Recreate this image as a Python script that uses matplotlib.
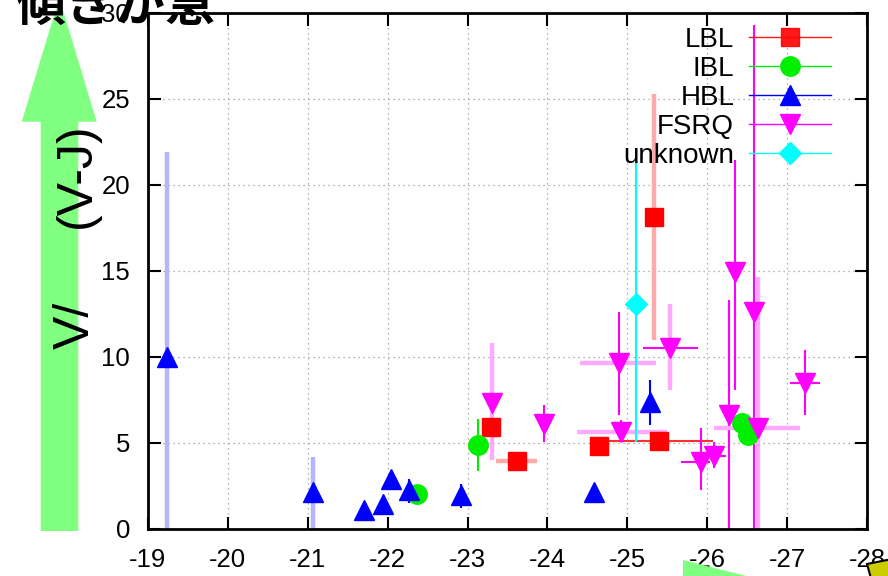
import matplotlib
matplotlib.use('Agg')
import matplotlib.pyplot as plt
import numpy as np
from matplotlib.lines import Line2D
from matplotlib.patches import Polygon

nan = np.nan

# ---- data ----
# LBL (red squares)
lbl_x = [-23.29, -23.62, -24.64, -25.34, -25.40]
lbl_y = [5.91, 3.97, 4.83, 18.16, 5.13]
lbl_ylo = [nan, nan, nan, 11.0, nan]
lbl_yhi = [nan, nan, nan, 25.3, nan]
lbl_yfaint = [False, False, False, True, False]
lbl_xlo = [nan, -23.36, nan, nan, -24.70]
lbl_xhi = [nan, -23.87, nan, nan, -26.07]
lbl_xfaint = [False, True, False, False, False]

# IBL (green circles)
ibl_x = [-22.37, -23.13, -26.43, -26.51]
ibl_y = [2.03, 4.88, 6.14, 5.47]
ibl_ylo = [nan, 3.39, nan, nan]
ibl_yhi = [nan, 6.38, nan, nan]
ibl_yfaint = [False, False, False, False]

# HBL (blue triangles)
hbl_x = [-19.24, -21.06, -21.71, -21.94, -22.04, -22.27, -22.92, -24.58, -25.28]
hbl_y = [10.0, 2.17, 1.10, 1.45, 2.89, 2.27, 1.98, 2.17, 7.40]
hbl_ylo = [0.0, 0.0, nan, nan, nan, 1.5, 1.2, nan, 6.05]
hbl_yhi = [21.9, 4.2, nan, nan, nan, 2.9, 2.6, nan, 8.66]
hbl_yfaint = [True, True, False, False, False, False, False, False, False]

# FSRQ (magenta down triangles)
fsrq_x = [-23.31, -23.96, -24.90, -25.53, -26.35, -26.58, -24.92, -25.92, -26.09, -26.27, -26.64, -27.23]
fsrq_y = [7.31, 6.10, 9.63, 10.50, 14.96, 12.63, 5.66, 3.91, 4.24, 6.63, 5.85, 8.47]
fsrq_ylo = [4.0, 5.08, 6.6, 8.08, 8.08, 0.0, 5.17, 2.27, 3.53, 0.0, 0.0, 6.63]
fsrq_yhi = [10.8, 7.2, 12.6, 13.1, 21.45, 29.3, 6.34, 5.9, 5.08, 13.3, 14.67, 10.4]
fsrq_yfaint = [True, False, False, True, False, False, False, False, False, False, True, False]
fsrq_xlo = [nan, nan, -24.41, -25.19, nan, nan, -24.37, -25.67, -25.94, nan, -26.09, -27.03]
fsrq_xhi = [nan, nan, -25.36, -25.89, nan, nan, -25.50, -26.03, -26.24, nan, -27.16, -27.41]
fsrq_xfaint = [False, False, True, False, False, False, True, False, False, False, True, False]

# unknown (cyan diamonds)
unk_x = [-25.11]
unk_y = [13.08]
unk_ylo = [5.08]
unk_yhi = [21.3]
unk_yfaint = [False]

xticks = list(range(-19, -29, -1))
yticks = list(range(0, 31, 5))

plt.rcParams['font.family'] = ['Liberation Sans', 'DejaVu Sans']
plt.rcParams['axes.unicode_minus'] = False

fig = plt.figure(figsize=(8.88, 5.76), dpi=100)
ax = fig.add_axes([148 / 888, 1 - 529 / 576, (867 - 148) / 888, (529 - 13) / 576])

FAINT = {'r': '#ffaaaa', 'g': '#aaffaa', 'b': '#b4b4ff', 'm': '#ffaaff', 'c': '#aaffff'}
SOLID = {'r': '#ff3030', 'g': '#00ee00', 'b': '#0000ff', 'm': '#ff00ff', 'c': '#00ffff'}


def draw_errs(pos, lo, hi, faint, key, vertical=True):
    pos, lo, hi, faint = map(np.asarray, (pos, lo, hi, faint))
    ok = ~np.isnan(lo)
    for fl, col, lw in ((True, FAINT[key], 3.2), (False, SOLID[key], 1.5)):
        m = ok & (faint == fl)
        if not m.any():
            continue
        if vertical:
            ax.vlines(pos[m], lo[m], hi[m], colors=col, lw=lw, zorder=2)
        else:
            ax.hlines(pos[m], lo[m], hi[m], colors=col, lw=lw, zorder=2)


draw_errs(lbl_x, lbl_ylo, lbl_yhi, lbl_yfaint, 'r')
draw_errs(lbl_y, lbl_xlo, lbl_xhi, lbl_xfaint, 'r', vertical=False)
draw_errs(ibl_x, ibl_ylo, ibl_yhi, ibl_yfaint, 'g')
draw_errs(hbl_x, hbl_ylo, hbl_yhi, hbl_yfaint, 'b')
draw_errs(fsrq_x, fsrq_ylo, fsrq_yhi, fsrq_yfaint, 'm')
draw_errs(fsrq_y, fsrq_xlo, fsrq_xhi, fsrq_xfaint, 'm', vertical=False)
draw_errs(unk_x, unk_ylo, unk_yhi, unk_yfaint, 'c')

ax.plot(lbl_x, lbl_y, 's', color='#ff0000', ms=13, zorder=4)
ax.plot(ibl_x, ibl_y, 'o', color='#00ee00', ms=14, zorder=4)
ax.plot(hbl_x, hbl_y, '^', color='#0000ff', ms=14, zorder=4)
ax.plot(fsrq_x, fsrq_y, 'v', color='#ff00ff', ms=14, zorder=4)
ax.plot(unk_x, unk_y, 'D', color='#00ffff', ms=11, zorder=4)

ax.set_xlim(-19, -28)
ax.set_ylim(0, 30)
ax.set_xticks(xticks)
ax.set_yticks(yticks)
ax.grid(True, linestyle=(0, (1, 3)), color='#999999', lw=0.9)
ax.tick_params(direction='in', top=True, right=True, length=9, width=1.5,
               labelsize=18.5, pad=13, colors='black')
ax.tick_params(axis='x', pad=14)
for s in ax.spines.values():
    s.set_linewidth(2)

handles = [
    Line2D([], [], color='#ff0000', marker='s', ms=13, lw=1, alpha=0.9),
    Line2D([], [], color='#00ee00', marker='o', ms=14, lw=1),
    Line2D([], [], color='#0000ff', marker='^', ms=14, lw=1),
    Line2D([], [], color='#ff00ff', marker='v', ms=14, lw=1),
    Line2D([], [], color='#00ffff', marker='D', ms=11, lw=1),
]
ax.legend(handles, ['LBL', 'IBL', 'HBL', 'FSRQ', 'unknown'], loc='upper right',
          bbox_to_anchor=(0.966, 0.995), frameon=False, markerfirst=False,
          handlelength=2.95, handletextpad=0.55, fontsize=20, labelspacing=0.11,
          borderaxespad=0)

# overlay in pixel coordinates for the slide decorations
ov = fig.add_axes([0, 0, 1, 1], zorder=5)
ov.set_xlim(0, 888)
ov.set_ylim(576, 0)
ov.axis('off')
ov.patch.set_alpha(0)

ov.add_patch(Polygon([(40.7, 531), (78.3, 531), (78.3, 121.7), (96.7, 121.7),
                      (59.3, -2), (21.7, 121.7), (40.7, 121.7)],
                     closed=True, color='#80ff80', lw=0))
ov.add_patch(Polygon([(683, 560), (770, 582), (683, 582)], closed=True, color='#80ff80', lw=0))
ov.add_patch(Polygon([(867, 564), (892, 559), (892, 582), (872, 582)], closed=True,
                     facecolor='#cccc00', edgecolor='black', lw=1.5))

ov.text(15, 32, '傾きが急', fontsize=36, fontweight='bold',
        family=['Noto Sans CJK JP', 'DejaVu Sans'], ha='left', va='bottom')
ov.text(76, 325, 'V/', rotation=90, fontsize=36, ha='center', va='center')
ov.text(77, 175, '(V-J)', rotation=90, fontsize=36, ha='center', va='center')

fig.savefig('out.png', dpi=100)
